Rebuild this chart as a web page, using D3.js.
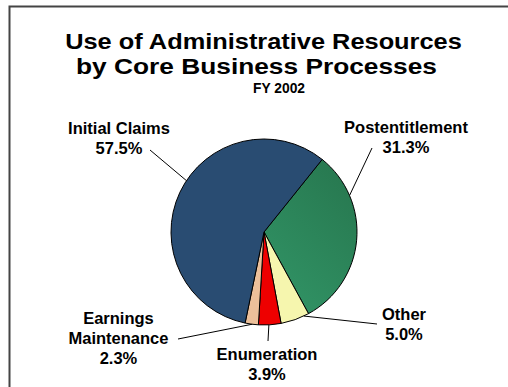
<!DOCTYPE html>
<html>
<head>
<meta charset="utf-8">
<script src="https://cdn.jsdelivr.net/npm/d3@7"></script>
<style>
  html, body { margin: 0; padding: 0; background: #fff; }
  svg { display: block; font-family: "Liberation Sans", Arial, sans-serif; font-weight: bold; }
</style>
</head>
<body>
<svg id="chart" width="508" height="387"></svg>
<script>
// Share of administrative resources, FY 2002 (clockwise from the upper right)
const categories = ["Postentitlement", "Other", "Enumeration", "Earnings Maintenance", "Initial Claims"];
const shares = [31.3, 5.0, 3.9, 2.3, 57.5];
const labelLines = [["Postentitlement"], ["Other"], ["Enumeration"], ["Earnings", "Maintenance"], ["Initial Claims"]];

// Slice fills: [light, dark] gradient stops
const fills = [
  ["#35a06f", "#246e48"],
  ["#f6f6ae", "#c6bc7e"],
  ["#ee0000", "#a40000"],
  ["#ecc09a", "#c4966e"],
  ["#32659a", "#294c72"]
];

// Label layout: text centre x, first baseline y, leader-line text end, and where on the slice the line attaches
const labelLayout = [
  { x: 406, y: 133, lx: 372, ly: 148, frac: 0.25 },
  { x: 404, y: 320, lx: 377, ly: 324, frac: 0.18 },
  { x: 267, y: 360, lx: 268, ly: 341, frac: 0.54 },
  { x: 118.5, y: 324, lx: 178, ly: 339, frac: 0.47 },
  { x: 119, y: 134, lx: 150, ly: 150, frac: 0.54 }
];

const svg = d3.select("#chart");
const cx = 264, cy = 232, r = 93;
const startAngle = 0.676;

// Frame line along the top and left
svg.append("path")
  .attr("d", "M9.5,387 V6.5 H508")
  .attr("fill", "none")
  .attr("stroke", "#444")
  .attr("stroke-width", 2);

// Title: wide bold lettering, each line stretched horizontally to its width
const titles = [
  { text: "Use of Administrative Resources", x: 263.5, y: 49, size: 22.5, width: 397 },
  { text: "by Core Business Processes", x: 256.5, y: 74, size: 22.5, width: 361 },
  { text: "FY 2002", x: 279, y: 93, size: 14, width: 52 }
];
titles.forEach(d => {
  const t = svg.append("text")
    .attr("text-anchor", "middle")
    .attr("font-size", d.size)
    .attr("fill", "#000")
    .text(d.text);
  const natural = t.node().getComputedTextLength();
  t.attr("transform", `translate(${d.x},${d.y}) scale(${d.width / natural},1)`);
});

const data = categories.map((c, i) => ({ name: c, value: shares[i], i }));
const pie = d3.pie().value(d => d.value).sort(null)
  .startAngle(startAngle).endAngle(startAngle + 2 * Math.PI);
const arcs = pie(data);
const arc = d3.arc().innerRadius(0).outerRadius(r);

// Per-slice gradients
const defs = svg.append("defs");
const dirs = [[-1, 1, 1, -1], [-0.6, -0.2, 0.6, 0.6], [0, -1, 0, 1], [-0.4, -1, 0.4, 1], [1, 1, -1, -1]];
arcs.forEach((a, i) => {
  const d = dirs[i];
  const g = defs.append("linearGradient")
    .attr("id", "g" + i)
    .attr("gradientUnits", "userSpaceOnUse")
    .attr("x1", cx + d[0] * r).attr("y1", cy + d[1] * r)
    .attr("x2", cx + d[2] * r).attr("y2", cy + d[3] * r);
  g.append("stop").attr("offset", "0%").attr("stop-color", fills[i][0]);
  g.append("stop").attr("offset", "100%").attr("stop-color", fills[i][1]);
});

const pieG = svg.append("g").attr("transform", `translate(${cx},${cy})`);
pieG.selectAll("path").data(arcs).join("path")
  .attr("d", arc)
  .attr("fill", (d, i) => `url(#g${i})`)
  .attr("stroke", "#000")
  .attr("stroke-width", 1)
  .attr("stroke-linejoin", "round");

// Leader lines from slice edge to label
arcs.forEach((a, i) => {
  const L = labelLayout[i];
  const ang = a.startAngle + L.frac * (a.endAngle - a.startAngle);
  const px = cx + r * Math.sin(ang), py = cy - r * Math.cos(ang);
  svg.append("line")
    .attr("x1", px).attr("y1", py)
    .attr("x2", L.lx).attr("y2", L.ly)
    .attr("stroke", "#000").attr("stroke-width", 1);
});

// Labels: name line(s) and percentage
arcs.forEach((a, i) => {
  const L = labelLayout[i];
  const lines = labelLines[i].concat([d3.format(".1f")(a.data.value) + "%"]);
  const t = svg.append("text")
    .attr("text-anchor", "middle")
    .attr("font-size", 16.5)
    .attr("fill", "#000");
  lines.forEach((s, k) => {
    t.append("tspan").attr("x", L.x).attr("y", L.y + k * 20).text(s);
  });
});
</script>
</body>
</html>
